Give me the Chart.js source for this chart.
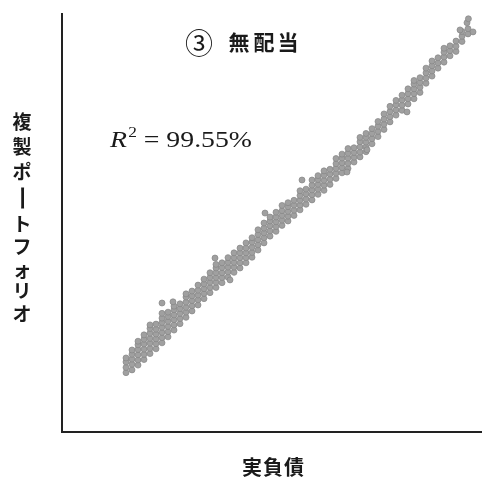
<!DOCTYPE html>
<html>
<head>
<meta charset="utf-8">
<script src="https://cdn.jsdelivr.net/npm/chart.js@4/dist/chart.umd.min.js"></script>
<style>
  html, body { margin: 0; padding: 0; background: #fff; }
  #wrap { width: 482px; height: 479px; }
</style>
</head>
<body>
<div id="wrap"><canvas id="chart" width="482" height="479"></canvas></div>
<script>
const TITLE_MARK = "③";
const TITLE_TEXT = "無配当";
const X_LABEL = "実負債";
const Y_LABEL = "複製ポートフォリオ";
const R2_TEXT = " = 99.55%";

// 実負債 (x) columns and the 複製ポートフォリオ values read in each column
const colX = [16, 17.5, 19, 20.5, 22, 23.5, 25, 26.5, 28, 29.5, 31, 32.5, 34, 35.5, 37, 38.5, 40, 41.5, 43, 44.5,
  46, 47.5, 49, 50.5, 52, 53.5, 55, 56.5, 58, 59.5, 61, 62.5, 64, 65.5, 67, 68.5, 70, 71.5, 73, 74.5,
  76, 77.5, 79, 80.5, 82, 83.5, 85, 86.5, 88, 89.5, 91, 92.5, 94, 95.5, 97, 98.5, 100, 101.5];
const colY = [
  [14.9, 16.2, 17.6, 18.6],
  [15.6, 17.0, 18.3, 19.5, 20.6],
  [16.8, 18.1, 19.4, 20.7, 21.9, 22.8],
  [18.2, 19.5, 20.8, 22.1, 23.3, 24.4],
  [19.7, 21.0, 22.3, 23.5, 24.8, 26.0],
  [20.9, 22.2, 23.4, 24.6, 25.8, 27.1],
  [22.4, 23.7, 25.0, 26.3, 27.5, 28.6, 29.8],
  [23.9, 25.2, 26.5, 27.8, 29.0, 30.1],
  [25.6, 26.9, 28.2, 29.4, 30.7, 31.6],
  [27.2, 28.5, 29.8, 31.0, 32.2],
  [28.8, 30.1, 31.3, 32.6, 33.9, 34.7],
  [30.4, 31.7, 33.0, 34.2, 35.4],
  [31.9, 33.2, 34.4, 35.6, 36.9],
  [33.5, 34.8, 36.0, 37.2, 38.4],
  [35.0, 36.3, 37.6, 38.8, 40.0],
  [36.3, 37.6, 38.8, 40.0, 41.2, 42.1],
  [37.5, 38.8, 40.0, 41.3, 42.5],
  [38.9, 40.2, 41.4, 42.6, 43.8],
  [40.1, 41.4, 42.6, 43.8, 45.0],
  [41.2, 42.5, 43.8, 45.0, 46.2],
  [42.5, 43.8, 45.0, 46.2, 47.5],
  [43.9, 45.1, 46.4, 47.7, 48.8],
  [45.7, 47.0, 48.3, 49.6, 50.8],
  [47.5, 48.8, 50.0, 51.2, 52.5],
  [49.2, 50.5, 51.8, 53.0, 54.0],
  [50.4, 51.6, 52.8, 54.0, 55.2],
  [51.9, 53.2, 54.4, 55.6, 56.9],
  [53.0, 54.2, 55.4, 56.6, 57.6],
  [54.4, 55.7, 57.0, 58.2],
  [55.8, 57.0, 58.2, 59.4, 60.6],
  [57.2, 58.5, 59.8, 61.0],
  [58.3, 59.6, 60.8, 62.0, 63.3],
  [59.7, 61.0, 62.2, 63.4, 64.4],
  [60.7, 62.0, 63.2, 64.5, 65.6],
  [62.2, 63.5, 64.8, 66.0],
  [63.7, 65.0, 66.2, 67.4, 68.7],
  [65.1, 66.4, 67.6, 68.8, 69.8],
  [66.2, 67.5, 68.8, 70.0, 71.2],
  [67.8, 69.0, 70.2, 71.4],
  [69.1, 70.3, 71.6, 72.9, 74.0],
  [70.4, 71.6, 72.8, 74.0, 75.0],
  [72.4, 73.7, 75.0, 76.2],
  [74.2, 75.5, 76.8, 78.0],
  [76.0, 77.3, 78.6, 79.9],
  [77.9, 79.2, 80.5, 81.8],
  [79.6, 80.9, 82.2, 83.3],
  [80.8, 82.1, 83.4, 84.6],
  [82.4, 83.7, 85.0, 86.2],
  [83.7, 85.0, 86.2, 87.4, 88.3],
  [85.3, 86.6, 87.8, 89.0],
  [87.6, 88.9, 90.2, 91.4],
  [89.4, 90.7, 92.0, 93.2],
  [91.4, 92.7, 94.0],
  [92.9, 94.2, 95.4, 96.4],
  [94.5, 95.8, 97.0],
  [95.6, 96.9, 98.2],
  [98.1, 99.4, 100.6],
  [100.0, 101.3]
];
// stray points off the main band
const strayX = [22, 25, 27.75, 38.25, 42, 50.75, 60, 71.25, 76.25, 86.25, 99.5, 101.25, 102.75, 101.6];
const strayY = [26.9, 32.4, 32.7, 43.7, 38.2, 55, 63.3, 65.3, 70.9, 80.4, 101, 102.8, 100.5, 103.8];

const points = [];
colX.forEach((x, i) => colY[i].forEach(y => points.push({ x, y })));
strayX.forEach((x, i) => points.push({ x, y: strayY[i] }));

const textPlugin = {
  id: "texts",
  afterDraw(chart) {
    const ctx = chart.ctx;
    ctx.save();
    ctx.fillStyle = "#1a1a1a";
    ctx.textAlign = "center";
    ctx.textBaseline = "middle";

    // title
    ctx.font = '28px "Noto Sans CJK JP"';
    ctx.fillText(TITLE_MARK, 199, 43);
    ctx.font = 'bold 21px "Noto Sans CJK JP"';
    [239, 264, 288].forEach((cx, i) => ctx.fillText(TITLE_TEXT[i], cx, 42));

    // y label, set vertically
    ctx.font = 'bold 19px "Noto Sans CJK JP"';
    const yc = [122, 147, 172, 198, 224, 247, 270, 291, 314];
    [...Y_LABEL].forEach((ch, i) => {
      if (ch === "ー") {
        ctx.save();
        ctx.translate(22, yc[i]);
        ctx.rotate(Math.PI / 2);
        ctx.scale(1.35, 1);
        ctx.fillText(ch, 0, 0);
        ctx.restore();
      } else {
        ctx.fillText(ch, 22, yc[i]);
      }
    });

    // x label
    ctx.font = 'bold 20px "Noto Sans CJK JP"';
    [252, 273, 294].forEach((cx, i) => ctx.fillText(X_LABEL[i], cx, 467));

    // R^2
    ctx.textAlign = "left";
    ctx.textBaseline = "alphabetic";
    const big = '24px "Liberation Serif"';
    const ital = 'italic 24px "Liberation Serif"';
    const sup = '15px "Liberation Serif"';
    ctx.font = ital; const wR = ctx.measureText("R").width;
    ctx.font = sup; const w2 = ctx.measureText("2").width;
    ctx.font = big; const wT = ctx.measureText(R2_TEXT).width;
    const sx = 142 / (wR + w2 + wT + 1);
    ctx.translate(110, 147);
    ctx.scale(sx, 1);
    ctx.font = ital; ctx.fillText("R", 0, 0);
    ctx.font = sup; ctx.fillText("2", wR + 1, -10);
    ctx.font = big; ctx.fillText(R2_TEXT, wR + w2 + 1, 0);
    ctx.restore();
  }
};

new Chart(document.getElementById("chart"), {
  type: "scatter",
  data: {
    datasets: [{
      data: points,
      backgroundColor: "#a0a0a0",
      borderColor: "#858585",
      borderWidth: 0.7,
      pointRadius: 3
    }]
  },
  options: {
    responsive: false,
    animation: false,
    devicePixelRatio: 1,
    layout: { autoPadding: false, padding: { left: 62, right: 0, top: 14, bottom: 47 } },
    plugins: { legend: { display: false }, tooltip: { enabled: false } },
    scales: {
      x: {
        type: "linear", min: 0, max: 105,
        ticks: { display: false },
        grid: { display: false, drawTicks: false },
        border: { display: true, color: "#222", width: 2 }
      },
      y: {
        type: "linear", min: 0, max: 105,
        ticks: { display: false },
        grid: { display: false, drawTicks: false },
        border: { display: true, color: "#222", width: 2 }
      }
    }
  },
  plugins: [textPlugin]
});
</script>
</body>
</html>
